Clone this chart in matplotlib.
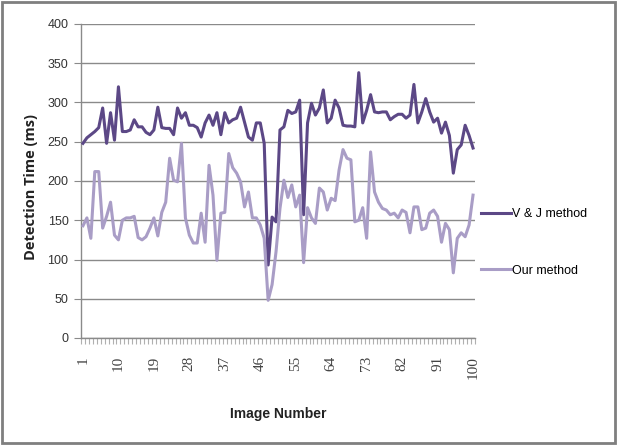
import matplotlib
matplotlib.use("Agg")
import matplotlib.pyplot as plt
from matplotlib.patches import Rectangle

image_numbers = list(range(1, 101))

vj_method = [248, 255, 259, 263, 268, 293, 248, 287, 252, 320,
             263, 263, 265, 278, 269, 269, 262, 259, 265, 294,
             268, 267, 267, 259, 293, 280, 287, 271, 271, 268,
             256, 274, 284, 271, 287, 259, 287, 274, 278, 280,
             294, 275, 256, 252, 274, 274, 248, 93, 154, 148,
             265, 269, 290, 286, 288, 303, 157, 274, 299, 284,
             293, 316, 274, 280, 303, 293, 271, 270, 270, 269,
             338, 274, 290, 310, 288, 287, 288, 288, 278, 282,
             285, 285, 280, 284, 323, 274, 288, 305, 288, 275,
             280, 261, 275, 258, 210, 240, 246, 271, 258, 242]

our_method = [143, 153, 127, 212, 212, 140, 155, 173, 131, 125,
              150, 153, 153, 155, 128, 125, 129, 140, 153, 130,
              160, 173, 229, 201, 199, 248, 153, 131, 121, 121,
              159, 122, 220, 182, 99, 159, 160, 235, 217, 210,
              199, 167, 186, 153, 153, 144, 127, 48, 68, 110,
              165, 201, 179, 195, 167, 182, 96, 166, 153, 146,
              191, 186, 163, 178, 175, 214, 240, 229, 227, 148,
              150, 166, 127, 237, 186, 173, 165, 163, 157, 159,
              153, 163, 160, 134, 167, 167, 138, 140, 159, 163,
              155, 122, 146, 138, 83, 127, 134, 129, 144, 182]

xtick_labels = [1, 10, 19, 28, 37, 46, 55, 64, 73, 82, 91, 100]
ytick_values = [0, 50, 100, 150, 200, 250, 300, 350, 400]

series_names = ["V & J method", "Our method"]
dark = "#5c4886"
light = "#a99dc6"

W, H = 625, 446
fig = plt.figure(figsize=(W / 100, H / 100), dpi=100)
ax = fig.add_axes([81 / W, 1 - 338 / H, 394 / W, (338 - 24) / H])

ax.plot(image_numbers, vj_method, color=dark, lw=2.2, label=series_names[0], zorder=3)
ax.plot(image_numbers, our_method, color=light, lw=2.2, label=series_names[1], zorder=3)

ax.set_xlim(0.5, 100.5)
ax.set_ylim(0, 400)
ax.set_yticks(ytick_values)
ax.set_yticklabels([str(v) for v in ytick_values], fontsize=9, family="Liberation Sans", color="#333333")
ax.yaxis.grid(True, color="#8a8a8a", lw=1.0)
ax.set_axisbelow(True)
ax.tick_params(axis="y", length=5, color="#8a8a8a", pad=4)

# category boundary ticks
ax.set_xticks([i + 0.5 for i in range(0, 101)], minor=True)
ax.set_xticks(xtick_labels)
ax.set_xticklabels([str(v) for v in xtick_labels], rotation=90, fontsize=11,
                   family="Liberation Serif", color="#444444")
ax.tick_params(axis="x", which="major", length=0, pad=13)
ax.tick_params(axis="x", which="minor", length=4, color="#b0b0b0", width=0.8)

for s in ["top", "right"]:
    ax.spines[s].set_visible(False)
for s in ["left", "bottom"]:
    ax.spines[s].set_color("#8a8a8a")
    ax.spines[s].set_linewidth(1.0)

ax.set_ylabel("Detection Time (ms)", fontsize=10.5, fontweight="bold", family="Open Sans",
              color="#222222")
ax.yaxis.set_label_coords(-0.11, 0.48)
ax.set_xlabel("Image Number", fontsize=10, fontweight="bold", family="Liberation Sans",
              labelpad=20, color="#222222")

leg = ax.legend(loc="upper left", bbox_to_anchor=(470 / W, 1 - 197 / H),
                bbox_transform=fig.transFigure, frameon=False,
                handlelength=2.4, handletextpad=0.1, labelspacing=3.55,
                prop={"family": "Liberation Sans", "size": 9})

fig.patches.append(Rectangle((2 / W, 1 - 443 / H), 613 / W, 441 / H, transform=fig.transFigure,
                             fill=False, edgecolor="#7f7f7f", lw=2.0))

fig.savefig("out.png", dpi=100)
